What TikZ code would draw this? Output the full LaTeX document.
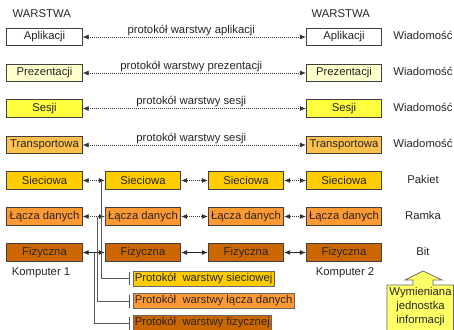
\documentclass[tikz,border=0pt]{standalone}
\usepackage{fontspec}
\setmainfont{Liberation Sans}
\usetikzlibrary{arrows.meta}
\definecolor{prezentacja}{HTML}{FFFFCC}
\definecolor{sesja}{HTML}{FFFF40}
\definecolor{transport}{HTML}{FFC04D}
\definecolor{siec}{HTML}{FFCC00}
\definecolor{lacze}{HTML}{FF9933}
\definecolor{fizyka}{HTML}{CC6600}
\definecolor{dymek}{HTML}{FFFF66}
\begin{document}
\begin{tikzpicture}[x=1pt,y=-1pt,>={Latex[length=6pt,width=5pt]},
    every node/.style={font=\fontsize{11.3}{14}\selectfont, text=black!85},
    warstwa/.style={draw=black!75, line width=0.8pt, minimum width=75.5pt, minimum height=17.5pt, inner sep=0pt},
    protokol/.style={draw=black!60, line width=0.6pt, anchor=west, minimum height=15pt, inner xsep=1.5pt, inner ysep=0pt},
    kropki/.style={<->, black!80, line width=0.7pt, dash pattern=on 1pt off 1pt},
    ciagla/.style={<->, black!85, line width=0.9pt},
    lacznik/.style={-{Bar[width=13pt]}, black!65, line width=0.7pt}]
    \useasboundingbox (0,0) rectangle (454,329);
    \def\xL{44.5}
    \def\xA{143}
    \def\xB{246}
    \def\xR{344}
    \def\xW{423}
    \node (war1) at (41.7,13.5) {WARSTWA};
    \node (war2) at (340.7,13.5) {WARSTWA};
    % gorne warstwy
    \foreach \n/\t/\c/\y/\p in {apl/Aplikacji/white/37/aplikacji, prez/Prezentacji/prezentacja/73/prezentacji, ses/Sesji/sesja/108.5/sesji, tr/Transportowa/transport/145/sesji}
    {
    \node[warstwa, fill=\c] (\n1) at (\xL,\y) {\t};
    \node[warstwa, fill=\c] (\n2) at (\xR,\y) {\t};
    \node (\n w) at (\xW,\y-1.5) {Wiadomość};
    \draw[kropki] (\n1) -- (\n2) node[midway, above, inner sep=1pt, xshift=-3pt] {protokół warstwy \p};
    }
    % dolne warstwy
    \foreach \n/\t/\c/\y/\j in {sie/Sieciowa/siec/180.5/Pakiet, lacz/Łącza danych/lacze/216.5/Ramka, fiz/Fizyczna/fizyka/252.5/Bit}
    {
    \node[warstwa, fill=\c] (\n1) at (\xL,\y) {\t};
    \node[warstwa, fill=\c] (\n2) at (\xA,\y) {\t};
    \node[warstwa, fill=\c] (\n3) at (\xB,\y) {\t};
    \node[warstwa, fill=\c] (\n4) at (\xR,\y) {\t};
    \node (\n j) at (\xW,\y-1.5) {\j};
    }
    \foreach \n in {sie,lacz}
    {
    \draw[kropki] (\n1) -- (\n2);
    \draw[kropki] (\n2) -- (\n3);
    \draw[kropki] (\n3) -- (\n4);
    }
    \draw[ciagla] (fiz1) -- (fiz2);
    \draw[ciagla] (fiz2) -- (fiz3);
    \draw[ciagla] (fiz3) -- (fiz4);
    \node (komp1) at (41,273) {Komputer 1};
    \node (komp2) at (345,273) {Komputer 2};
    % protokoly
    \node[protokol, fill=siec] (psie) at (133,278.5) {Protokół~ warstwy sieciowej};
    \node[protokol, fill=lacze] (placz) at (133,301) {Protokół~ warstwy łącza danych};
    \node[protokol, fill=fizyka] (pfiz) at (133,323) {Protokół~ warstwy fizycznej};
    \coordinate (vsie) at (101.7,180.5);
    \coordinate (vlacz) at (97.7,216.5);
    \coordinate (vfiz) at (94.3,252.5);
    \draw[lacznik] (vsie) |- ([xshift=-3pt]psie.west);
    \draw[lacznik] (vlacz) |- ([xshift=-3pt]placz.west);
    \draw[lacznik] (vfiz) |- ([xshift=-3pt]pfiz.west);
    % jednostka informacji
    \draw[fill=dymek, draw=black!60, line width=0.7pt] (387,285) -- (413,285) -- (413,280) -- (405,280) -- (423,271)
        -- (442,280) -- (433,280) -- (433,285) -- (453.5,285) -- (453.5,332) -- (387,332) -- cycle;
    \node[align=center, inner sep=0pt] (info) at (420.5,307) {Wymieniana\\jednostka\\informacji};
\end{tikzpicture}
\end{document}
